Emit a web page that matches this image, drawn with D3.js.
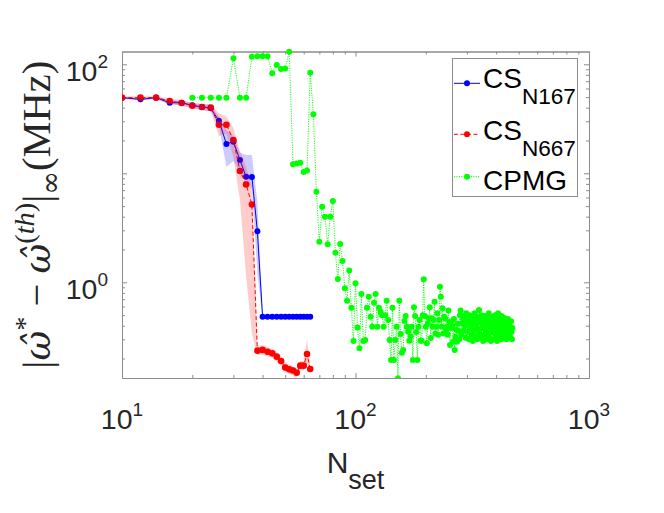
<!DOCTYPE html>
<html>
<head>
<meta charset="utf-8">
<script src="https://cdn.jsdelivr.net/npm/d3@7"></script>
<style>
  body { margin: 0; background: #fff; }
  svg { display: block; }
</style>
</head>
<body>
<div id="container"></div>
<script>
let w = 664;
let h = 513;

// N_set values
let nCS = d3.range(10, 66, 2);
let nCPMG = d3.range(20, 472, 2);

// CS N167
let cs167 = [49.4, 47.7, 49.4, 44.4, 44.4, 42.0, 40.6, 39.5, 30.4, 18.6,
  19.5, 13.25, 9.3, 9.25, 2.94, 0.484, 0.484, 0.484, 0.484, 0.484,
  0.484, 0.484, 0.484, 0.484, 0.484, 0.484, 0.484, 0.484];
let cs167Hi = [50.5, 49, 50.5, 46.5, 46.5, 44, 43, 42.5, 33, 25,
  22, 15.4, 14.7, 14.7, 5.5, 0.49, 0.49, 0.49, 0.49, 0.49,
  0.49, 0.49, 0.49, 0.49, 0.49, 0.49, 0.49, 0.49];
let cs167Lo = [48.3, 46.5, 48.3, 42.5, 42.5, 40, 38, 37, 27, 11.4,
  13, 10.3, 8.4, 7.3, 1.2, 0.478, 0.478, 0.478, 0.478, 0.478,
  0.478, 0.478, 0.478, 0.478, 0.478, 0.478, 0.478, 0.478];

// CS N667
let cs667 = [49.4, 49.4, 49.4, 46.0, 44.2, 41.7, 40.6, 40.0, 27.9, 27.9,
  20.2, 10.5, 7.9, 5.17, 0.236, 0.240, 0.231, 0.223, 0.208, 0.190,
  0.165, 0.159, 0.155, 0.148, 0.172, 0.172, 0.220, 0.160];
let cs667Hi = [51, 51, 51, 48.5, 47, 44.5, 43.5, 43, 35.5, 33,
  26, 16, 11.5, 7.5, 0.26, 0.265, 0.255, 0.245, 0.23, 0.21,
  0.182, 0.176, 0.171, 0.163, 0.19, 0.19, 0.30, 0.178];
let cs667Lo = [47.8, 47.8, 47.8, 43.5, 41.5, 39, 37.8, 37, 22, 23,
  14.2, 5.7, 1.14, 0.34, 0.215, 0.218, 0.21, 0.202, 0.188, 0.172,
  0.15, 0.144, 0.14, 0.134, 0.156, 0.156, 0.18, 0.144];

// CPMG
let cpmg = [
  49.4, 49.4, 49.4, 49.4, 49.4, 113.5, 49.4, 49.4, 117, 118.6,
  118.6, 118.6, 82.7, 98.5, 90.5, 91.6, 130, 12.1, 12.3, 12.5,
  10.3, 10.6, 83.7, 34.8, 6.78, 2.36, 4.94, 4.0, 2.24, 4.0,
  5.57, 1.87, 1.07, 2.25, 1.57, 0.88, 0.678, 1.28, 0.585, 0.29,
  0.98, 0.386, 0.248, 0.78, 0.29, 0.296, 0.585, 0.738, 0.484, 0.391,
  0.65, 0.78, 0.391, 0.585, 0.537, 0.50, 0.391, 0.50, 0.678, 0.45,
  0.296, 0.194, 0.585, 0.194, 0.296, 0.391, 0.132, 0.678, 0.335, 0.226,
  0.24, 0.442, 0.49, 0.391, 0.352, 0.291, 0.32, 0.391, 0.194, 0.59,
  0.49, 0.35, 0.194, 0.391, 0.45, 0.291, 0.291, 0.5, 1.065, 0.49,
  0.391, 0.276, 0.42, 0.468, 0.59, 0.308, 0.468, 0.391, 0.45, 0.664,
  0.34, 0.391, 0.52, 0.33, 0.45, 0.91, 0.738, 0.391, 0.577, 0.34,
  0.484, 0.468, 0.36, 0.391, 0.33, 0.55, 0.43, 0.266, 0.435, 0.38,
  0.40, 0.285, 0.46, 0.24, 0.317, 0.37, 0.285, 0.42, 0.36, 0.30,
  0.50, 0.55, 0.33, 0.42, 0.468, 0.36, 0.49, 0.40, 0.31, 0.52,
  0.43, 0.35, 0.45, 0.30, 0.50, 0.38, 0.42, 0.33, 0.47, 0.29,
  0.44, 0.36, 0.52, 0.32, 0.40, 0.48, 0.30, 0.45, 0.37, 0.557,
  0.34, 0.43, 0.31, 0.50, 0.38, 0.46, 0.29, 0.41, 0.49, 0.33,
  0.44, 0.36, 0.30, 0.47, 0.40, 0.34, 0.52, 0.31, 0.45, 0.38,
  0.29, 0.43, 0.48, 0.35, 0.41, 0.30, 0.46, 0.37, 0.50, 0.33,
  0.42, 0.36, 0.29, 0.45, 0.52, 0.40, 0.31, 0.47, 0.35, 0.43,
  0.30, 0.49, 0.38, 0.34, 0.44, 0.31, 0.40, 0.47, 0.33, 0.42,
  0.37, 0.30, 0.45, 0.39, 0.34, 0.46, 0.32, 0.41, 0.36, 0.43,
  0.31, 0.39, 0.44, 0.35, 0.30, 0.38];

// ticks
let xMajor = [10, 100, 1000];
let xExp = ["1", "2", "3"];
let xMinor = [20, 30, 40, 50, 60, 70, 80, 90, 200, 300, 400, 500, 600, 700, 800, 900];
let yMajor = [1, 100];
let yExp = ["0", "2"];
let yMinorTicks = [10];
let yMinor = [0.2, 0.3, 0.4, 0.5, 0.6, 0.7, 0.8, 0.9, 2, 3, 4, 5, 6, 7, 8, 9, 20, 30, 40, 50, 60, 70, 80, 90];

let legendItems = [
  {name: "CS", sub: "N167", color: "#0000ff", dash: null},
  {name: "CS", sub: "N667", color: "#ff0000", dash: "4,2.5"},
  {name: "CPMG", sub: "", color: "#00ff00", dash: "1.2,1.2"}
];

let pLeft = 122, pRight = 589, pTop = 51.5, pBottom = 378;
let axisColor = "#8c8c8c";
let textColor = "#262626";
let font = "'Liberation Sans', Arial, Helvetica, sans-serif";

let viz = d3.select("#container").append("svg")
  .attr("width", w)
  .attr("height", h)
  .style("background-color", "#fff");

let x = d3.scaleLog().domain([10, 1000]).range([pLeft, pRight]);
let y = d3.scaleLog().domain([0.1325, 131]).range([pBottom, pTop]);

viz.append("defs").append("clipPath").attr("id", "plotclip")
  .append("rect")
  .attr("x", pLeft).attr("y", pTop - 3)
  .attr("width", pRight - pLeft).attr("height", pBottom - pTop + 3);

// axes with inward ticks
function styleAxis(g) {
  g.selectAll("path, line").attr("stroke", axisColor).attr("stroke-width", 1);
  g.selectAll("text").remove();
}
viz.append("g").attr("transform", "translate(0," + pBottom + ")")
  .call(d3.axisBottom(x).tickValues(xMajor).tickSize(-5).tickSizeOuter(0)).call(styleAxis);
viz.append("g").attr("transform", "translate(0," + pBottom + ")")
  .call(d3.axisBottom(x).tickValues(xMinor).tickSize(-3).tickSizeOuter(0)).call(styleAxis);
viz.append("g").attr("transform", "translate(0," + pTop + ")")
  .call(d3.axisTop(x).tickValues(xMajor).tickSize(-5).tickSizeOuter(0)).call(styleAxis);
viz.append("g").attr("transform", "translate(0," + pTop + ")")
  .call(d3.axisTop(x).tickValues(xMinor).tickSize(-3).tickSizeOuter(0)).call(styleAxis);
viz.append("g").attr("transform", "translate(" + pLeft + ",0)")
  .call(d3.axisLeft(y).tickValues(yMajor.concat(yMinorTicks)).tickSize(-5).tickSizeOuter(0)).call(styleAxis);
viz.append("g").attr("transform", "translate(" + pLeft + ",0)")
  .call(d3.axisLeft(y).tickValues(yMinor).tickSize(-3).tickSizeOuter(0)).call(styleAxis);
viz.append("g").attr("transform", "translate(" + pRight + ",0)")
  .call(d3.axisRight(y).tickValues(yMajor.concat(yMinorTicks)).tickSize(-5).tickSizeOuter(0)).call(styleAxis);
viz.append("g").attr("transform", "translate(" + pRight + ",0)")
  .call(d3.axisRight(y).tickValues(yMinor).tickSize(-3).tickSizeOuter(0)).call(styleAxis);

// tick labels 10^k
xMajor.forEach(function (v, i) {
  let t = viz.append("text")
    .attr("x", x(v)).attr("y", pBottom + 51)
    .attr("text-anchor", "middle")
    .attr("font-family", font).attr("font-size", 28.5).attr("fill", textColor);
  t.append("tspan").text("10");
  t.append("tspan").attr("font-size", 19).attr("dy", -13).text(xExp[i]);
});
yMajor.forEach(function (v, i) {
  let t = viz.append("text")
    .attr("x", pLeft - 14).attr("y", y(v) + 17)
    .attr("text-anchor", "end")
    .attr("font-family", font).attr("font-size", 28.5).attr("fill", textColor);
  t.append("tspan").text("10");
  t.append("tspan").attr("font-size", 19).attr("dy", -13).text(yExp[i]);
});

// axis labels
let xl = viz.append("text")
  .attr("x", (pLeft + pRight) / 2).attr("y", 473)
  .attr("text-anchor", "middle")
  .attr("font-family", font).attr("font-size", 30).attr("fill", textColor);
xl.append("tspan").text("N");
xl.append("tspan").attr("font-size", 27).attr("dy", 16).text("set");

// y label, latex-like
let serif = "'Liberation Serif', 'DejaVu Serif', serif";
let greek = "'DejaVu Serif', serif";
let yl = viz.append("text")
  .attr("transform", "translate(50," + ((pTop + pBottom) / 2) + ") rotate(-90)")
  .attr("text-anchor", "middle")
  .attr("font-family", serif).attr("fill", textColor);

function buildLabel(fs) {
  yl.selectAll("tspan").remove();
  yl.attr("font-size", fs);
  let sub = fs * 0.7, up = fs * 0.4, dn = fs * 0.25;
  yl.append("tspan").text("|");
  yl.append("tspan").attr("font-family", greek).attr("font-style", "italic").attr("font-size", fs * 0.9).text("ω\u0302");
  yl.append("tspan").attr("font-size", sub).attr("dy", -up).text("*");
  yl.append("tspan").attr("dy", up).text(" − ");
  yl.append("tspan").attr("font-family", greek).attr("font-style", "italic").attr("font-size", fs * 0.9).text("ω\u0302");
  yl.append("tspan").attr("font-size", sub).attr("dy", -up).text("(");
  yl.append("tspan").attr("font-size", sub).attr("font-style", "italic").text("th");
  yl.append("tspan").attr("font-size", sub).text(")");
  yl.append("tspan").attr("dy", up).text("|");
  yl.append("tspan").attr("font-family", greek).attr("font-size", sub).attr("dy", dn).text("∞");
  yl.append("tspan").attr("dy", -dn).text("(MHz)");
}
buildLabel(30);
let labLen = yl.node().getComputedTextLength();
buildLabel(30 * 308 / labLen);

// data
let csData167 = nCS.map(function (n, i) { return {n: n, v: cs167[i], hi: cs167Hi[i], lo: cs167Lo[i]}; });
let csData667 = nCS.map(function (n, i) { return {n: n, v: cs667[i], hi: cs667Hi[i], lo: cs667Lo[i]}; });
let cpmgData = nCPMG.map(function (n, i) { return {n: n, v: cpmg[i]}; }).filter(function (d) { return d.v != null; });

let line = d3.line().x(function (d) { return x(d.n); }).y(function (d) { return y(d.v); });
let area = d3.area().x(function (d) { return x(d.n); })
  .y0(function (d) { return y(d.lo); }).y1(function (d) { return y(d.hi); });

let plot = viz.append("g").attr("clip-path", "url(#plotclip)");

function drawSeries(data, color, dash, r) {
  plot.append("path").datum(data)
    .attr("d", line).attr("fill", "none")
    .attr("stroke", color).attr("stroke-width", 1)
    .attr("stroke-dasharray", dash);
  plot.append("g").selectAll("circle").data(data).enter()
    .append("circle")
    .attr("cx", function (d) { return x(d.n); })
    .attr("cy", function (d) { return y(d.v); })
    .attr("r", r).attr("fill", color);
}

drawSeries(csData167, "#0000ff", null, 3);
drawSeries(csData667, "#ff0000", "4,2.5", 3.3);

plot.append("path").datum(csData167).attr("d", area)
  .attr("fill", "#0000ff").attr("fill-opacity", 0.2).attr("stroke", "none");
plot.append("path").datum(csData667).attr("d", area)
  .attr("fill", "#ff0000").attr("fill-opacity", 0.2).attr("stroke", "none");

plot.append("path").datum(cpmgData)
  .attr("d", line).attr("fill", "none")
  .attr("stroke", "#00ff00").attr("stroke-width", 0.9)
  .attr("stroke-dasharray", "1.2,1.2");
plot.append("g").selectAll("circle").data(cpmgData).enter()
  .append("circle")
  .attr("cx", function (d) { return x(d.n); })
  .attr("cy", function (d) { return y(d.v); })
  .attr("r", 3).attr("fill", "#00ff00");

// legend
let lg = viz.append("g");
lg.append("rect")
  .attr("x", 452.5).attr("y", 58.5).attr("width", 125).attr("height", 138)
  .attr("fill", "#fff").attr("stroke", axisColor).attr("stroke-width", 1);
let rowsY = [83.3, 134.3, 176.7];
let baseOff = [5, 5.7, 13.3];
legendItems.forEach(function (d, i) {
  let yy = rowsY[i];
  lg.append("line").attr("x1", 454).attr("x2", 480).attr("y1", yy).attr("y2", yy)
    .attr("stroke", d.color).attr("stroke-width", 1).attr("stroke-dasharray", d.dash);
  lg.append("circle").attr("cx", 467).attr("cy", yy).attr("r", 3).attr("fill", d.color);
  let t = lg.append("text").attr("x", 483).attr("y", yy + baseOff[i])
    .attr("font-family", font).attr("font-size", 28).attr("fill", "#000");
  t.append("tspan").text(d.name);
  if (d.sub) t.append("tspan").attr("font-size", 22.6).attr("dy", 15.7).text(d.sub);
});
</script>
</body>
</html>
